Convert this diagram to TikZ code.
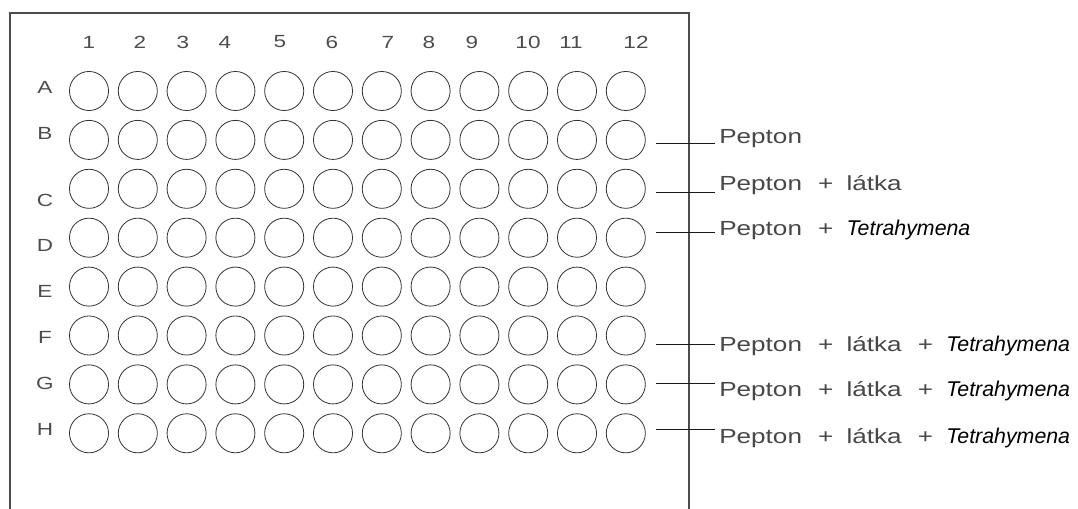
\documentclass[tikz,border=0pt]{standalone}
\usepackage{fontspec}
\setmainfont{Liberation Sans}
\newfontfamily\cadfont[FakeStretch=1.28]{Liberation Sans}
\usepackage{tikz}
\usetikzlibrary{positioning,calc}

\newcommand{\pls}{\hspace{12pt}+\hspace{10pt}}
\newcommand{\tetra}{{\normalfont\itshape\fontsize{16}{18}\selectfont\color{black}Tetrahymena}}

\begin{document}
\begin{tikzpicture}[
  x=0.75pt, y=-0.75pt,
  well/.style={draw=black!80, line width=0.6pt, circle, minimum size=29.3pt, inner sep=0pt},
  idx/.style={font=\cadfont\fontsize{13.2}{15}\selectfont, text=black!70, inner sep=0pt},
  txt/.style={font=\cadfont\fontsize{15.3}{18}\selectfont, text=black!72, anchor=west, inner sep=3pt},
  plate/.style={draw=black!70, line width=0.9pt},
  lead/.style={draw=black!90, line width=0.6pt}
]
  \useasboundingbox (0,0) rectangle (1078,509);

  % plate outline, open at the bottom
  \draw[plate] (10,509) |- (689,13) -- (689,509);

  % wells
  \foreach \r [count=\i] in {A,B,C,D,E,F,G,H}
    \foreach \c in {1,...,12}
      \node[well] (\r\c) at ({89+(\c-1)*48.8},{91+(\i-1)*48.9}) {};

  % column and row numbers
  \foreach \c/\x in {1/89,2/140,3/183,4/225,5/280,6/332,7/388,8/429,9/472,10/528,11/571,12/636}
    \node[idx] (col\c) at (\x,42) {\c};
  \foreach \r/\y in {A/87,B/133,C/200,D/245,E/291,F/337,G/383,H/429}
    \node[idx] (row\r) at (45,\y) {\r};

  % labels
  \node[txt] (lB) at (715,139) {Pepton};
  \node[txt] (lC) at (715,185) {Pepton\pls látka};
  \node[txt] (lD) at (715,230) {Pepton\pls\tetra};
  \node[txt] (lF) at (715,346) {Pepton\pls látka\pls\tetra};
  \node[txt] (lG) at (715,391) {Pepton\pls látka\pls\tetra};
  \node[txt] (lH) at (715,438) {Pepton\pls látka\pls\tetra};

  \foreach \r/\dy in {B/-3,C/-5.25,D/-1.5,F/1.5,G/6,H/6.75}
    \draw[lead] ([yshift=\dy pt]l\r.west) -- ([xshift=8pt,yshift=\dy pt]l\r.west -| \r12.east);
\end{tikzpicture}
\end{document}
